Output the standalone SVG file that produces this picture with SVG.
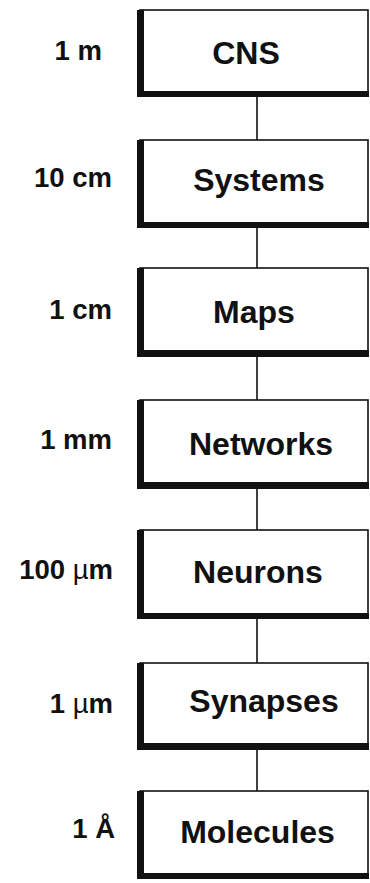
<svg xmlns="http://www.w3.org/2000/svg" width="370" height="883" viewBox="0 0 370 883">
<style>
.box{fill:#fff;stroke:#111;stroke-width:1.6}
.thick{fill:#111}
.name{font-family:"Liberation Sans",Arial,sans-serif;font-weight:bold;font-size:32px;fill:#111;text-anchor:middle}
.scale{font-family:"Liberation Sans",Arial,sans-serif;font-weight:bold;font-size:27.5px;fill:#111;text-anchor:end}
.mu{font-weight:normal}
.conn{stroke:#111;stroke-width:1.6;fill:none}
</style>
<rect width="370" height="883" fill="#fff"/>
<g id="connectors">
<line class="conn" x1="257" y1="97" x2="257" y2="140"/>
<line class="conn" x1="257" y1="228" x2="257" y2="268"/>
<line class="conn" x1="257" y1="357" x2="257" y2="400"/>
<line class="conn" x1="257" y1="489" x2="257" y2="530"/>
<line class="conn" x1="257" y1="619" x2="257" y2="663"/>
<line class="conn" x1="257" y1="750" x2="257" y2="791"/>
</g>
<g id="cns">
<rect class="box" x="140" y="10" width="228" height="85"/>
<rect class="thick" x="137" y="10" width="7" height="87"/>
<rect class="thick" x="137" y="91" width="232" height="6"/>
<text class="name" x="246" y="64">CNS</text>
<text class="scale" x="102" y="60">1 m</text>
</g>
<g id="systems">
<rect class="box" x="140" y="140" width="228" height="86"/>
<rect class="thick" x="137" y="140" width="7" height="88"/>
<rect class="thick" x="137" y="222" width="232" height="6"/>
<text class="name" x="259" y="191">Systems</text>
<text class="scale" x="112" y="187">10 cm</text>
</g>
<g id="maps">
<rect class="box" x="140" y="268" width="228" height="87"/>
<rect class="thick" x="137" y="268" width="7" height="89"/>
<rect class="thick" x="137" y="350" width="232" height="7"/>
<text class="name" x="254" y="323">Maps</text>
<text class="scale" x="112" y="319">1 cm</text>
</g>
<g id="networks">
<rect class="box" x="140" y="400" width="228" height="87"/>
<rect class="thick" x="137" y="400" width="7" height="89"/>
<rect class="thick" x="137" y="482" width="232" height="7"/>
<text class="name" x="261" y="455">Networks</text>
<text class="scale" x="112" y="449">1 mm</text>
</g>
<g id="neurons">
<rect class="box" x="140" y="530" width="228" height="87"/>
<rect class="thick" x="137" y="530" width="7" height="89"/>
<rect class="thick" x="137" y="613" width="232" height="6"/>
<text class="name" x="258" y="583">Neurons</text>
<text class="scale" x="113" y="579">100 <tspan class="mu">µ</tspan>m</text>
</g>
<g id="synapses">
<rect class="box" x="140" y="663" width="228" height="85"/>
<rect class="thick" x="137" y="663" width="7" height="87"/>
<rect class="thick" x="137" y="743" width="232" height="7"/>
<text class="name" x="264" y="712">Synapses</text>
<text class="scale" x="113" y="713">1 <tspan class="mu">µ</tspan>m</text>
</g>
<g id="molecules">
<rect class="box" x="140" y="791" width="228" height="86"/>
<rect class="thick" x="137" y="791" width="7" height="88"/>
<rect class="thick" x="137" y="873" width="232" height="6"/>
<text class="name" x="257.5" y="843">Molecules</text>
<text class="scale" x="115" y="838">1 Å</text>
</g>
</svg>
